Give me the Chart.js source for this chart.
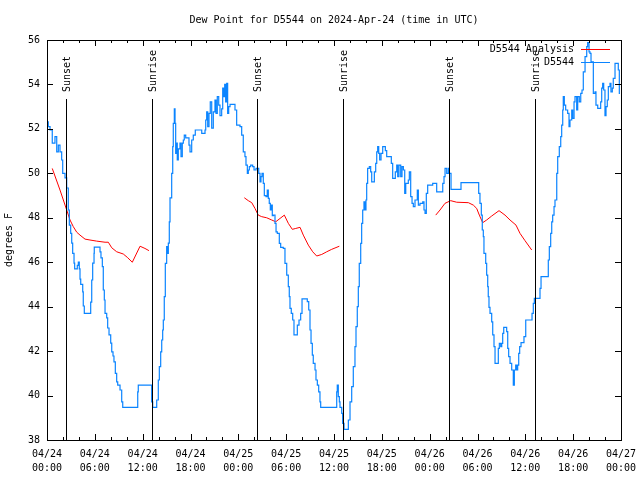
<!DOCTYPE html>
<html>
<head>
<meta charset="utf-8">
<script src="https://cdn.jsdelivr.net/npm/chart.js@4"></script>
<style>
  html, body { margin: 0; padding: 0; background: #fff; }
  canvas { display: block; }
</style>
</head>
<body>
<canvas id="dew_graph" width="640" height="480"></canvas>
<script>
// hours since 04/24 00:00 UTC
const xTickLabels = [
    ["04/24", "00:00"], ["04/24", "06:00"], ["04/24", "12:00"], ["04/24", "18:00"],
    ["04/25", "00:00"], ["04/25", "06:00"], ["04/25", "12:00"], ["04/25", "18:00"],
    ["04/26", "00:00"], ["04/26", "06:00"], ["04/26", "12:00"], ["04/26", "18:00"],
    ["04/27", "00:00"]
];

const eventLabels = ["Sunset", "Sunrise", "Sunset", "Sunrise", "Sunset", "Sunrise"];
const eventHours  = [2.42, 13.21, 26.39, 37.18, 50.48, 61.27];

// D5544 Analysis (null = gap)
const analysisHours = [
    0.66, 1.63, 2.47, 2.89, 3.30, 3.73, 4.14, 4.77, 5.39, 6.23, 7.28, 7.69, 8.12, 8.74, 9.57, 10.07, 10.70, 11.67, 12.29, 12.79,
    18.0,
    24.75, 25.25, 25.68, 26.09, 26.50, 26.93, 27.56, 28.19, 28.69, 29.23, 29.77, 30.27, 30.77, 31.20, 31.74, 32.15, 32.78, 33.33, 33.83, 34.46, 35.09, 35.71, 36.67,
    42.0,
    48.76, 49.30, 49.92, 50.64, 51.39, 52.85, 53.48, 53.90, 54.23, 54.65, 55.15, 55.78, 56.70, 57.45, 58.08, 58.83, 59.33, 59.96, 60.80
];
const analysisValues = [
    50.22, 49.25, 48.35, 47.9, 47.6, 47.35, 47.22, 47.04, 47.0, 46.95, 46.9, 46.9, 46.65, 46.47, 46.37, 46.22, 46.0, 46.72, 46.62, 46.52,
    null,
    48.9, 48.77, 48.68, 48.42, 48.12, 48.05, 48.0, 47.9, 47.82, 47.97, 48.12, 47.75, 47.48, 47.52, 47.57, 47.22, 46.77, 46.47, 46.28, 46.35, 46.47, 46.58, 46.72,
    null,
    48.12, 48.35, 48.65, 48.77, 48.7, 48.68, 48.57, 48.42, 48.12, 47.78, 47.9, 48.08, 48.32, 48.12, 47.9, 47.67, 47.3, 46.97, 46.55
];

// D5544 observations
const obsHours = [
    0.00, 0.16, 0.38, 0.66, 1.00, 1.22, 1.42, 1.63, 1.84, 1.97, 2.26, 2.47, 2.67, 2.80, 2.97, 3.10, 3.22, 3.39, 3.47, 3.80,
    3.93, 4.05, 4.14, 4.23, 4.48, 4.55, 4.68, 5.48, 5.61, 5.73, 5.90, 5.93, 6.65, 6.77, 6.94, 7.06, 7.19, 7.28, 7.49, 7.61,
    7.78, 7.99, 8.12, 8.28, 8.40, 8.57, 8.74, 8.87, 9.16, 9.37, 9.50, 11.38, 11.45, 13.13, 13.26, 13.76, 13.96, 14.09, 14.26, 14.39,
    14.51, 14.59, 14.71, 14.84, 15.01, 15.14, 15.22, 15.34, 15.43, 15.64, 15.77, 15.84, 15.97, 16.06, 16.14, 16.27, 16.34, 16.47, 16.68, 16.81,
    16.97, 17.10, 17.22, 17.40, 17.81, 17.94, 18.15, 18.35, 18.60, 19.41, 19.82, 19.91, 20.03, 20.16, 20.32, 20.48, 20.66, 20.86, 21.07, 21.20,
    21.36, 21.54, 21.70, 21.91, 22.04, 22.16, 22.29, 22.41, 22.54, 22.66, 22.79, 22.96, 23.58, 23.79, 24.21, 24.42, 24.62, 24.83, 24.96, 25.13,
    25.25, 25.38, 25.55, 25.80, 25.97, 26.22, 26.56, 26.72, 26.84, 26.97, 27.13, 27.26, 27.47, 27.63, 27.76, 27.88, 28.01, 28.14, 28.26, 28.39,
    28.60, 28.73, 28.89, 29.14, 29.31, 29.64, 29.85, 30.07, 30.27, 30.39, 30.48, 30.64, 30.82, 30.98, 31.40, 31.61, 31.82, 31.99, 32.65, 32.83,
    32.99, 33.12, 33.28, 33.40, 33.62, 33.74, 33.91, 34.08, 34.24, 34.33, 36.34, 36.41, 36.54, 36.67, 36.75, 36.97, 37.09, 37.26, 37.80, 38.01,
    38.22, 38.42, 38.63, 38.76, 38.92, 39.05, 39.17, 39.35, 39.47, 39.60, 39.76, 39.89, 40.01, 40.10, 40.22, 40.43, 40.60, 40.73, 41.06, 41.23,
    41.36, 41.48, 41.61, 41.73, 41.90, 42.11, 42.44, 42.61, 43.19, 43.36, 43.69, 43.87, 43.99, 44.15, 44.37, 44.53, 44.70, 44.87, 45.00, 45.32,
    45.45, 45.62, 45.79, 45.95, 46.16, 46.45, 46.58, 46.79, 47.13, 47.29, 47.42, 47.58, 47.75, 48.38, 48.88, 49.64, 49.80, 49.93, 50.14, 50.34,
    50.47, 50.68, 51.93, 54.15, 54.31, 54.48, 54.60, 54.73, 54.81, 55.03, 55.15, 55.28, 55.35, 55.44, 55.57, 55.78, 55.91, 56.07, 56.20, 56.61,
    56.74, 56.91, 57.04, 57.16, 57.29, 57.66, 57.79, 57.91, 58.08, 58.29, 58.49, 58.62, 58.79, 58.92, 59.04, 59.17, 59.29, 59.46, 59.83, 60.05,
    60.84, 61.00, 61.13, 61.84, 61.97, 62.88, 63.01, 63.18, 63.31, 63.43, 63.60, 63.72, 63.94, 64.06, 64.26, 64.44, 64.56, 64.69, 64.76, 64.89,
    65.06, 65.31, 65.48, 65.60, 65.82, 65.94, 66.11, 66.23, 66.44, 66.57, 66.77, 66.95, 67.11, 67.27, 67.49, 67.70, 67.82, 67.99, 68.11, 68.24,
    68.53, 68.74, 68.86, 69.08, 69.45, 69.58, 69.70, 69.83, 69.99, 70.12, 70.28, 70.41, 70.62, 70.74, 70.91, 71.03, 71.25, 71.66, 71.79, 71.87
];
const obsValues = [
    52.32, 52.1, 51.95, 51.36, 51.65, 50.97, 51.27, 50.97, 50.6, 50.0, 49.8, 49.34, 48.35, 47.67, 47.3, 46.86, 46.4, 45.96, 45.7, 45.86,
    46.0, 45.7, 45.24, 45.0, 44.67, 44.03, 43.7, 44.2, 45.2, 45.96, 46.4, 46.68, 46.47, 46.2, 45.8, 44.75, 44.3, 43.7, 43.5, 43.04,
    42.73, 42.36, 41.97, 41.78, 41.52, 41.0, 40.62, 40.47, 40.25, 39.72, 39.47, 40.17, 40.47, 39.72, 39.47, 39.8, 40.7, 41.3, 41.97, 42.5,
    42.95, 43.4, 44.45, 45.95, 46.7, 46.4, 46.86, 47.82, 48.9, 50.0, 51.2, 52.25, 52.9, 52.25, 50.9, 51.36, 50.6, 51.1, 51.36, 50.75,
    51.36, 51.5, 51.72, 51.6, 51.27, 50.97, 51.5, 51.72, 51.95, 51.8, 51.95, 52.4, 52.77, 52.1, 52.7, 53.22, 52.03, 52.77, 53.3, 52.7,
    53.45, 53.07, 52.6, 52.9, 53.83, 53.45, 54.0, 53.22, 54.05, 52.7, 53.0, 53.1, 52.85, 52.17, 52.1, 51.72, 50.97, 50.75, 50.37, 50.0,
    50.15, 50.3, 50.37, 50.3, 50.15, 50.22, 50.0, 49.62, 49.85, 50.0, 49.55, 49.0, 48.95, 49.25, 48.87, 48.65, 48.35, 48.57, 48.1, 48.12,
    47.75, 47.37, 47.3, 46.85, 46.67, 46.62, 45.95, 45.42, 44.9, 44.45, 43.92, 43.7, 43.4, 42.73, 43.17, 43.4, 43.7, 44.35, 44.23, 43.85,
    42.95, 42.35, 41.82, 41.45, 41.15, 40.7, 40.47, 40.17, 39.72, 39.47, 40.17, 40.47, 39.95, 39.72, 39.47, 39.2, 38.75, 38.48, 38.9, 39.72,
    40.4, 41.3, 42.2, 43.1, 44.0, 44.9, 45.95, 46.85, 47.75, 48.35, 48.72, 48.35, 48.8, 49.55, 50.22, 50.3, 50.07, 49.62, 50.07, 50.45,
    50.97, 51.2, 50.9, 50.6, 50.9, 51.2, 51.02, 50.75, 50.45, 49.77, 50.07, 50.37, 49.85, 50.37, 49.85, 50.3, 50.15, 49.1, 49.55, 49.7,
    50.07, 48.95, 48.65, 48.5, 48.8, 49.25, 48.57, 48.65, 48.72, 48.35, 48.2, 49.1, 49.47, 49.55, 49.17, 49.55, 49.85, 50.22, 50.0, 50.22,
    50.0, 49.28, 49.58, 49.1, 48.65, 48.12, 47.45, 47.15, 46.4, 45.95, 45.42, 44.9, 44.45, 43.97, 43.7, 43.32, 42.73, 42.2, 41.45, 42.12,
    42.35, 42.2, 42.35, 42.8, 43.07, 42.88, 42.12, 41.75, 41.45, 41.15, 40.47, 41.15, 41.37, 41.15, 41.37, 41.9, 42.2, 42.38, 42.65, 43.4,
    43.7, 44.15, 44.37, 44.82, 45.35, 46.1, 46.7, 47.3, 47.82, 48.12, 48.5, 48.8, 50.0, 50.75, 51.2, 51.65, 52.17, 52.85, 53.45, 53.07,
    52.85, 52.7, 52.1, 52.4, 52.85, 52.47, 53.22, 53.45, 52.85, 53.45, 53.22, 53.6, 53.75, 54.57, 55.25, 55.7, 55.88, 55.47, 55.4, 55.02,
    53.6, 53.67, 53.07, 52.92, 53.22, 53.83, 54.05, 53.75, 52.6, 53.0, 53.3, 53.9, 54.05, 53.67, 53.83, 54.27, 54.95, 54.65, 53.6, 53.6
];

const RED  = "#ff0000";
const BLUE = "#0a84ff";
const FONT = "'DejaVu Sans Mono', monospace";

function make_points(xs, ys){
    let pts = [];
    for (let i=0;i<xs.length;i++){
        pts.push({x: xs[i], y: ys[i]});
    }
    return pts;
}

//枠・目盛り・日の出日の入り・凡例・タイトルを描く
const framePlugin = {
    id: "frame",
    afterDatasetsDraw(chart){
        const c  = chart.ctx;
        const a  = chart.chartArea;
        const xs = chart.scales.x;
        const ys = chart.scales.y;

        c.save();
        c.strokeStyle = "#000";
        c.lineWidth   = 1;

        //枠
        c.strokeRect(Math.round(a.left) + 0.5, Math.round(a.top) + 0.5,
                     Math.round(a.right - a.left), Math.round(a.bottom - a.top));

        //x目盛り (2時間ごと、6時間ごとに長い)
        c.beginPath();
        for (let h=0; h<=72; h+=2){
            let px  = Math.round(xs.getPixelForValue(h)) + 0.5;
            let len = (h % 6 == 0) ? 6 : 3;
            c.moveTo(px, a.bottom); c.lineTo(px, a.bottom - len);
            c.moveTo(px, a.top);    c.lineTo(px, a.top + len);
        }
        //y目盛り
        for (let v=38; v<=56; v+=2){
            let py = Math.round(ys.getPixelForValue(v)) + 0.5;
            c.moveTo(a.left, py);  c.lineTo(a.left + 6, py);
            c.moveTo(a.right, py); c.lineTo(a.right - 6, py);
        }
        c.stroke();

        //日の出・日の入り
        c.fillStyle    = "#000";
        c.font         = "10px " + FONT;
        for (let i=0;i<eventHours.length;i++){
            let px = Math.round(xs.getPixelForValue(eventHours[i])) + 0.5;
            c.beginPath();
            c.moveTo(px, 99);
            c.lineTo(px, a.bottom);
            c.stroke();

            c.save();
            c.translate(px + 1, 92);
            c.rotate(-Math.PI / 2);
            c.textAlign    = "left";
            c.textBaseline = "middle";
            c.fillText(eventLabels[i], 0, 0);
            c.restore();
        }

        //凡例
        const legendItems = [["D5544 Analysis", RED, 49.5], ["D5544", BLUE, 62.5]];
        c.textAlign    = "right";
        c.textBaseline = "middle";
        for (let item of legendItems){
            c.fillStyle = "#000";
            c.fillText(item[0], 574, item[2]);
            c.strokeStyle = item[1];
            c.beginPath();
            c.moveTo(581, item[2]);
            c.lineTo(610, item[2]);
            c.stroke();
        }

        //タイトル
        c.fillStyle    = "#000";
        c.textAlign    = "center";
        c.textBaseline = "middle";
        c.fillText("Dew Point for D5544 on 2024-Apr-24 (time in UTC)", (a.left + a.right) / 2, 20);

        c.restore();
    }
};

Chart.defaults.font.family = FONT;
Chart.defaults.font.size   = 10;
Chart.defaults.color       = "#000";

const ctx     = document.getElementById("dew_graph").getContext("2d");
const myChart = new Chart(ctx, {
    type: "line",
    data: {
        datasets: [
            {
                label: "D5544 Analysis",
                data: make_points(analysisHours, analysisValues),
                borderColor: RED,
                borderWidth: 1,
                pointRadius: 0,
                spanGaps: false,
                order: 1
            },
            {
                label: "D5544",
                data: make_points(obsHours, obsValues),
                borderColor: BLUE,
                borderWidth: 1.2,
                pointRadius: 0,
                stepped: true,
                order: 0
            }
        ]
    },
    options: {
        responsive: false,
        animation: false,
        layout: { padding: { top: 40, right: 19, left: 0, bottom: 0 } },
        plugins: {
            legend: { display: false },
            title: { display: false },
            tooltip: { enabled: false }
        },
        scales: {
            x: {
                type: "linear",
                min: 0,
                max: 72,
                grid: { display: false, drawTicks: false },
                border: { display: false },
                ticks: {
                    stepSize: 6,
                    padding: 7,
                    maxRotation: 0,
                    autoSkip: false,
                    font: { size: 10, lineHeight: 1.4 },
                    callback: function(v){ return xTickLabels[Math.round(v / 6)]; }
                },
                afterFit: function(s){ s.height = 40; s.paddingLeft = 0; s.paddingRight = 0; }
            },
            y: {
                min: 38,
                max: 56,
                grid: { display: false, drawTicks: false },
                border: { display: false },
                ticks: { stepSize: 2, padding: 7 },
                title: { display: true, text: "degrees F", padding: { top: 3, bottom: 0 }, font: { size: 10 } },
                afterFit: function(s){ s.width = 47; s.paddingTop = 0; s.paddingBottom = 0; }
            }
        }
    },
    plugins: [framePlugin]
});
</script>
</body>
</html>
